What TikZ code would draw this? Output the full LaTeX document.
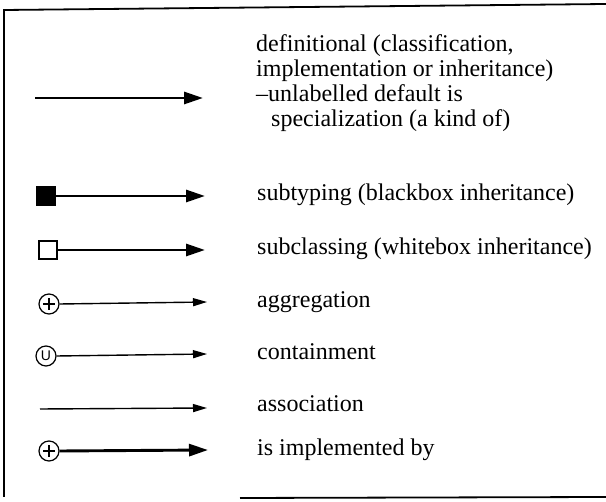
\documentclass[tikz,border=0pt]{standalone}
\usepackage{fontspec}
\setmainfont{Liberation Serif}
\newfontfamily\ringfont{Liberation Sans}
\usetikzlibrary{arrows.meta}
\begin{document}
\begin{tikzpicture}[x=1pt,y=-1pt,
  heavy link/.style={line width=2.9pt, -{Triangle[length=19pt,width=12pt]}},
  light link/.style={line width=1.4pt, -{Triangle[length=14pt,width=8pt]}},
  legend text/.style={anchor=base west, inner sep=0pt, align=left,
    font=\fontsize{24}{25}\selectfont},
  box end/.style={draw, line width=1.2pt, minimum size=18pt, inner sep=0pt},
  ring end/.style={draw, circle, line width=1.2pt, minimum size=20pt, inner sep=0pt},
  plus ring/.style={ring end, path picture={
    \draw[line width=1.3pt]
      ([xshift=-6pt]path picture bounding box.center) -- ([xshift=6pt]path picture bounding box.center)
      ([yshift=-6pt]path picture bounding box.center) -- ([yshift=6pt]path picture bounding box.center);}},
  frame line/.style={line width=1.8pt}
]
\useasboundingbox (0,0) rectangle (606,502);

% outer frame
\coordinate (ftr) at (606,4);
\coordinate (ftl) at (4,10);
\coordinate (fbl) at (4,497);
\coordinate (fbs) at (240,498);
\coordinate (fbr) at (606,497);
\draw[frame line] (ftr) -- (ftl) -- (fbl);
\draw[frame line] (fbs) -- (fbr);

% definitional
\coordinate (d0) at (35,98);
\coordinate (d1) at (203,98);
\draw[heavy link] (d0) -- (d1);
\node[legend text] (tdef) at (256,127) {definitional (classification,\\
  implementation or inheritance)\\
  --unlabelled default is\\
  \hspace*{15pt}specialization (a kind of)};

% subtyping
\node[box end, fill=black] (sq1) at (46,196) {};
\coordinate (s1) at (205,196);
\draw[heavy link] (sq1) -- (s1);
\node[legend text] (tsub) at (257,201) {subtyping (blackbox inheritance)};

% subclassing
\node[box end, fill=white] (sq2) at (48,250) {};
\coordinate (s2) at (205,250);
\draw[heavy link] (sq2) -- (s2);
\node[legend text] (tcls) at (257,255) {subclassing (whitebox inheritance)};

% aggregation
\node[plus ring] (agg) at (49,304) {};
\coordinate (a1) at (207,302);
\draw[light link] (agg.east) -- (a1);
\node[legend text] (tagg) at (257,308) {aggregation};

% containment
\node[ring end, font=\ringfont\fontsize{14}{14}\selectfont] (con) at (46,356) {U};
\coordinate (c1) at (207,354);
\draw[light link] (con.east) -- (c1);
\node[legend text] (tcon) at (257,360) {containment};

% association
\coordinate (as0) at (40,409);
\coordinate (as1) at (207,408);
\draw[light link] (as0) -- (as1);
\node[legend text] (tass) at (257,412) {association};

% is implemented by
\node[plus ring] (imp) at (49,451) {};
\coordinate (i1) at (208,450);
\draw[heavy link] (imp.east) -- (i1);
\node[legend text] (timp) at (257,456) {is implemented by};
\end{tikzpicture}
\end{document}
